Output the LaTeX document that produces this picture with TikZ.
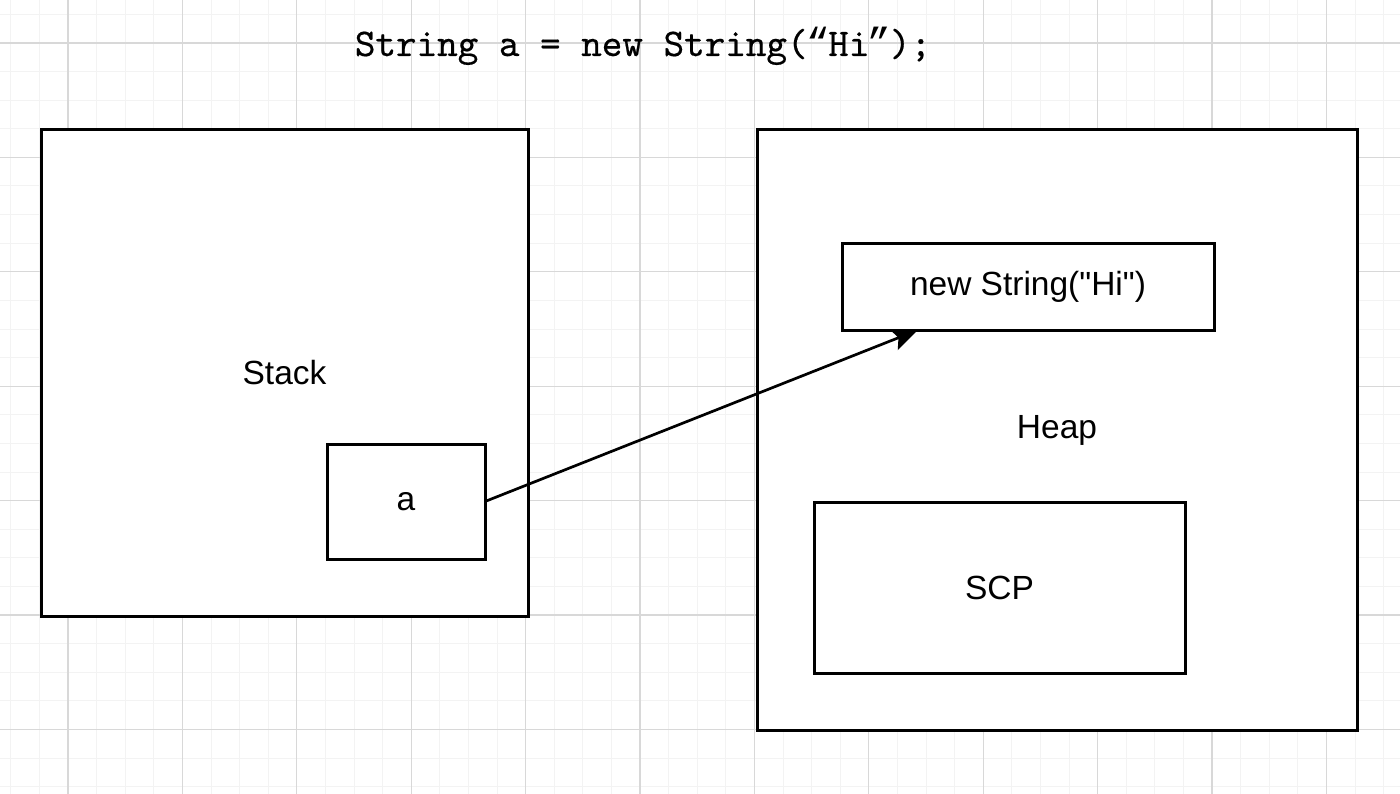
\documentclass[tikz,border=0pt]{standalone}
\usepackage{fontspec}
\setmainfont{Liberation Sans}[Ligatures=TeXOff]
\newfontfamily\codefont[FakeBold=0.5]{lmmono10-regular.otf}
\usetikzlibrary{arrows.meta}
\definecolor{gridmajor}{HTML}{D8D8D8}
\definecolor{gridminor}{HTML}{F3F3F3}
\tikzset{
  minorline/.style={draw=gridminor, line width=1pt},
  majorline/.style={draw=gridmajor, line width=1.3pt},
  membox/.style={draw=black, fill=white, line width=3pt, inner sep=0pt, outer sep=0pt,
    font=\fontsize{33.5}{40}\selectfont, align=center},
  ref/.style={draw=black, line width=2.7pt, -{Stealth[length=26pt,width=22pt,inset=5pt]}},
  code/.style={font=\codefont\fontsize{39.2}{44}\selectfont, anchor=base, inner sep=0pt}
}
\newcommand{\curlyq}[1]{{\fontspec{Liberation Mono}\fontsize{39.2}{44}\selectfont\hbox to 20.6pt{\hss #1\hss}}}
\begin{document}
\begin{tikzpicture}[x=1pt,y=-1pt]
\useasboundingbox (0,0) rectangle (1400,794);
\fill[white] (0,0) rectangle (1400,794);
% grid
\foreach \i in {-2,...,46} {\draw[minorline] ({68+28.6*\i},0) -- ({68+28.6*\i},794);}
\foreach \j in {-1,...,26} {\draw[minorline] (0,{43+28.6*\j}) -- (1400,{43+28.6*\j});}
\foreach \i in {0,...,11} {\draw[majorline] ({68+114.4*\i},0) -- ({68+114.4*\i},794);}
\foreach \j in {0,...,6} {\draw[majorline] (0,{43+114.4*\j}) -- (1400,{43+114.4*\j});}
% title
\node[code] (title) at (643,56) {String a = new String(\curlyq{“}Hi\curlyq{”});};
% boxes
\node[membox, minimum width=487pt, minimum height=486pt] (stack) at (284.5,373) {Stack};
\node[membox, minimum width=600pt, minimum height=600pt] (heap) at (1057,430) {Heap};
\node[membox, minimum width=158pt, minimum height=115pt] (a) at (406,501.5) {a};
\node[membox, minimum width=372pt, minimum height=86pt] (ns) at (1028,287) {new String("Hi")};
\node[membox, minimum width=371pt, minimum height=171pt] (scp) at (999.5,587.5) {SCP};
% reference arrow
\coordinate (tip) at ([xshift=76pt]ns.south west);
\draw[ref] (a.east) -- (tip);
\end{tikzpicture}
\end{document}
